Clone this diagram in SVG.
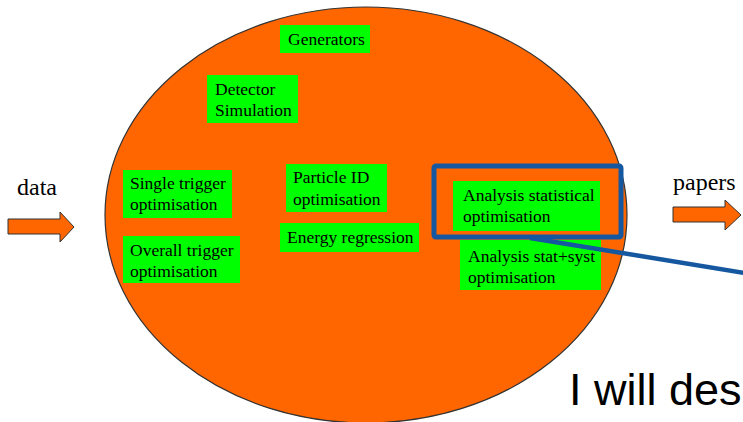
<svg xmlns="http://www.w3.org/2000/svg" width="743" height="422" viewBox="0 0 743 422">
<style>
.box{fill:#00ff00}
.t{font-family:"Liberation Serif","Times New Roman",serif;font-size:17.5px;fill:#000}
.big{font-family:"Liberation Serif","Times New Roman",serif;font-size:24px;fill:#000}
.arrow{fill:#ff6600;stroke:#333;stroke-width:1}
</style>
<rect width="743" height="422" fill="#fff"/>
<ellipse id="process" cx="366" cy="215" rx="261" ry="208" fill="#ff6600" stroke="#333" stroke-width="1.2"/>
<g id="generators"><rect class="box" x="280" y="25" width="90" height="28"/><text class="t" x="288" y="45">Generators</text></g>
<g id="detector"><rect class="box" x="207" y="75" width="91" height="48"/><text class="t" x="215" y="95">Detector</text><text class="t" x="215" y="116">Simulation</text></g>
<g id="single-trigger"><rect class="box" x="123" y="170" width="109" height="48"/><text class="t" x="130" y="189">Single trigger</text><text class="t" x="130" y="210">optimisation</text></g>
<g id="overall-trigger"><rect class="box" x="123" y="236" width="117" height="47"/><text class="t" x="130" y="256">Overall trigger</text><text class="t" x="130" y="277">optimisation</text></g>
<g id="particle-id"><rect class="box" x="286" y="164" width="101" height="48"/><text class="t" x="293" y="183">Particle ID</text><text class="t" x="293" y="205">optimisation</text></g>
<g id="energy"><rect class="box" x="280" y="223" width="139" height="29"/><text class="t" x="287" y="243">Energy regression</text></g>
<g id="analysis-stat"><rect class="box" x="453" y="181" width="147" height="50"/><text class="t" x="463" y="201">Analysis statistical</text><text class="t" x="463" y="222">optimisation</text></g>
<g id="analysis-syst"><rect class="box" x="460" y="240" width="141" height="50"/><text class="t" x="468" y="262">Analysis stat+syst</text><text class="t" x="468" y="283">optimisation</text></g>
<g id="data"><text class="big" x="17" y="195">data</text><path class="arrow" d="M8 219 H60 V212 L74 227 L60 242 V234 H8 Z"/></g>
<g id="papers"><text class="big" x="673" y="190">papers</text><path class="arrow" d="M673 207 H725 V200 L741 215 L725 230 V222 H673 Z"/></g>
<g id="connectors">
<rect x="434" y="166" width="187" height="71" rx="2" fill="none" stroke="#1558a0" stroke-width="5"/>
<line x1="530" y1="238" x2="745" y2="273" stroke="#1558a0" stroke-width="4.5"/>
</g>
<text x="569" y="405" font-family="'Liberation Sans',Arial,sans-serif" font-size="45" fill="#000">I will des</text>
</svg>
